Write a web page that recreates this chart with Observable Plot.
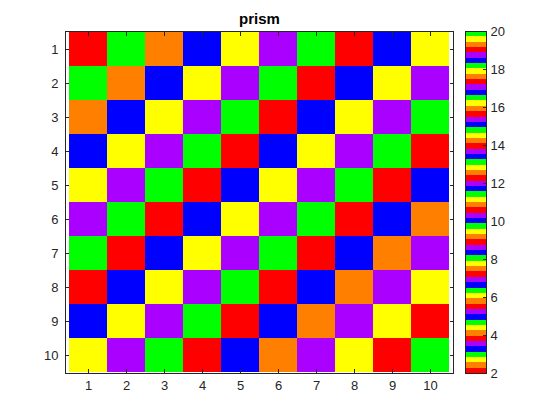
<!DOCTYPE html>
<html><head><meta charset="utf-8">
<script src="https://cdn.jsdelivr.net/npm/d3@7"></script>
<script src="https://cdn.jsdelivr.net/npm/@observablehq/plot@0.6"></script>
<style>
body{margin:0;background:#fff}
#wrap{position:relative;width:560px;height:420px;background:#fff}
#wrap svg{position:absolute;top:0;left:0}
</style>
</head><body><div id="wrap"></div>
<script>
const title = "prism";
const rowLabels = [1,2,3,4,5,6,7,8,9,10];
const colLabels = [1,2,3,4,5,6,7,8,9,10];
const values = [
  [2,3,4,5,6,7,8,9,10,11],
  [3,4,5,6,7,8,9,10,11,12],
  [4,5,6,7,8,9,10,11,12,13],
  [5,6,7,8,9,10,11,12,13,14],
  [6,7,8,9,10,11,12,13,14,15],
  [7,8,9,10,11,12,13,14,15,16],
  [8,9,10,11,12,13,14,15,16,17],
  [9,10,11,12,13,14,15,16,17,18],
  [10,11,12,13,14,15,16,17,18,19],
  [11,12,13,14,15,16,17,18,19,20]
];
const prismColors = ["#ff0000","#ff8000","#ffff00","#00ff00","#0000ff","#aa00ff"];
const nColors = 64;
const cLimits = [2,20];
const colorbarTicks = [2,4,6,8,10,12,14,16,18,20];

const cells = values.flatMap((row,i)=>row.map((v,j)=>({row:rowLabels[i], col:colLabels[j], v})));
const colormap = d3.range(nColors).map(k=>prismColors[k % prismColors.length]);
const step = (cLimits[1]-cLimits[0])/nColors;
const thresholds = d3.range(1,nColors).map(k=>cLimits[0]+k*step);
const bands = d3.range(nColors).map(k=>({y1:cLimits[0]+k*step, y2:cLimits[0]+(k+1)*step, mid:cLimits[0]+(k+0.5)*step}));

const font = {fontFamily:"'Liberation Sans', Arial, Helvetica, sans-serif", fontSize:"13px", color:"#262626", background:"transparent", overflow:"visible"};
const colorScale = {type:"threshold", domain:thresholds, range:colormap};
const axisStroke = "#262626";

const main = Plot.plot({
  width:560, height:420,
  marginLeft:65, marginRight:107, marginTop:31, marginBottom:47,
  style:font,
  x:{type:"band", domain:colLabels, padding:0},
  y:{type:"band", domain:rowLabels, padding:0},
  color:colorScale,
  marks:[
    Plot.cell(cells,{x:"col", y:"row", fill:"v", shapeRendering:"crispEdges"}),
    Plot.axisX({anchor:"bottom", tickSize:0, tickPadding:7, label:null, fill:"#262626"}),
    Plot.axisY({anchor:"left", tickSize:0, tickPadding:7, label:null, fill:"#262626"}),
    Plot.axisX({anchor:"bottom", tickSize:4, dy:-4, tickFormat:()=>"", label:null, stroke:axisStroke}),
    Plot.axisX({anchor:"top", tickSize:4, dy:4, tickFormat:()=>"", label:null, stroke:axisStroke}),
    Plot.axisY({anchor:"left", tickSize:4, dx:4, tickFormat:()=>"", label:null, stroke:axisStroke}),
    Plot.axisY({anchor:"right", tickSize:4, dx:-4, tickFormat:()=>"", label:null, stroke:axisStroke}),
    Plot.frame({stroke:axisStroke}),
    Plot.text([title],{frameAnchor:"top", dy:-8, lineAnchor:"bottom", fontWeight:"bold", fontSize:15, fill:"#000"})
  ]
});

const cbar = Plot.plot({
  width:560, height:420,
  marginLeft:465, marginRight:74, marginTop:31, marginBottom:47,
  style:font,
  y:{type:"linear", domain:cLimits},
  color:colorScale,
  marks:[
    Plot.rectY(bands,{y1:"y1", y2:"y2", fill:"mid", shapeRendering:"crispEdges"}),
    Plot.axisY(colorbarTicks,{anchor:"right", tickSize:0, tickPadding:4, label:null, fill:"#262626"}),
    Plot.axisY(colorbarTicks,{anchor:"right", tickSize:4, dx:-4, tickFormat:()=>"", label:null, stroke:axisStroke}),
    Plot.frame({stroke:axisStroke})
  ]
});

const wrap = document.getElementById("wrap");
wrap.appendChild(main);
wrap.appendChild(cbar);
</script>
</body></html>
